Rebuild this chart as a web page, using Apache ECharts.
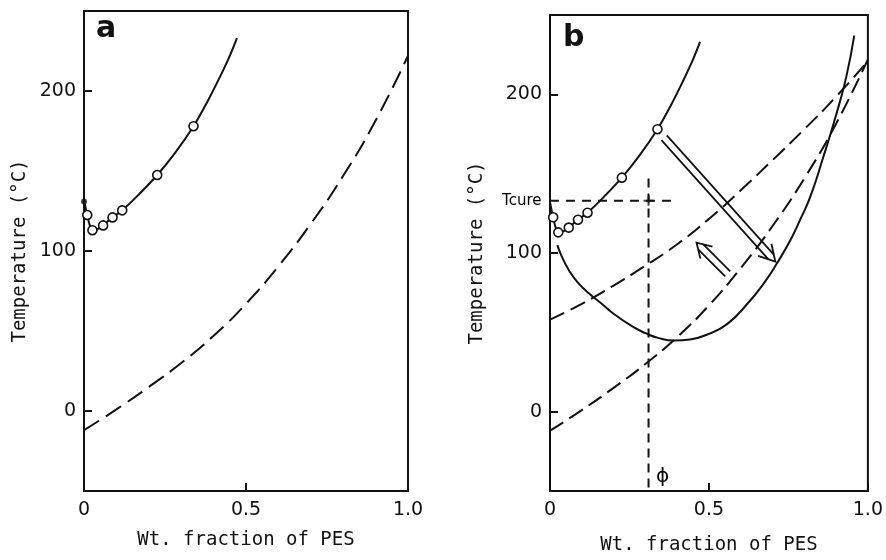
<!DOCTYPE html>
<html><head><meta charset="utf-8">
<script src="https://cdn.jsdelivr.net/npm/echarts@6/dist/echarts.min.js"></script>
<style>html,body{margin:0;padding:0;background:#fff}#c{width:886px;height:560px}</style>
</head><body><div id="c"></div>
<script>
// ---- data ----
const xTicks = [0, 0.5, 1.0];
const xTickLabels = ['0', '0.5', '1.0'];
const yTicks = [0, 100, 200];
const yRange = [-50, 250];
// cloud-point curve (solid) and measured points (open circles)
const cloudCurve = [[0,132],[0.006,126],[0.012,120.5],[0.02,115],[0.03,113],[0.045,114],[0.059,116],[0.088,121],[0.118,125.4],[0.17,135.5],[0.226,147.5],[0.28,161],[0.338,178],[0.38,193],[0.42,209],[0.45,222],[0.472,233]];
const cloudPoints = [[0.01,122.5],[0.026,113],[0.059,116],[0.088,121],[0.118,125.4],[0.226,147.5],[0.338,178]];
const pureEpoxyPoint = [[0,131]];
// lower dashed curve (both panels)
const glassCurve = [[0,-12],[0.1,1],[0.2,15],[0.3,30],[0.4,47],[0.5,67],[0.6,90.5],[0.7,117],[0.8,147],[0.9,181.5],[1.0,222]];
// upper dashed curve (panel b)
const upperCurve = [[0,58],[0.1,68],[0.2,79.5],[0.3,92],[0.4,105.5],[0.5,121.5],[0.6,139.5],[0.7,158.5],[0.8,178],[0.9,198.5],[1.0,221]];
// U-shaped solid curve (panel b)
const uCurve = [[0.023,105],[0.04,96.5],[0.06,89],[0.085,82],[0.122,74.6],[0.16,68.5],[0.195,62.5],[0.259,53.7],[0.3,49.5],[0.34,46.5],[0.39,44.8],[0.44,45.5],[0.5,49],[0.559,55.5],[0.621,68],[0.673,81],[0.714,93.5],[0.756,108],[0.787,121],[0.818,135],[0.859,160],[0.9,187],[0.932,211],[0.957,237]];
const tCure = 133;
const phi = 0.31;
const tCureLineX = [0, 0.39];
const phiLineY = [147, -50];
const phiLabelY = -41;
// arrows: [xStart, yStart, xTip, yTip]
const arrows = [[0.359,172.6,0.709,94.5],[0.559,86.8,0.461,106.5]];

// ---- chart ----
const INK = '#111111';
const SANS = 'DejaVu Sans';
const NAMEFONT = 'DejaVu Sans Mono';

function xAxisFor(gi, gap) {
  return {
    type: 'value', gridIndex: gi, min: xTicks[0], max: xTicks[xTicks.length - 1], interval: 0.5,
    axisLine: { show: true, onZero: false, lineStyle: { color: INK, width: 2 } },
    axisTick: { show: true, inside: true, length: 8, lineStyle: { color: INK, width: 2 } },
    axisLabel: { color: INK, fontSize: 19, fontFamily: SANS, margin: 10,
      formatter: v => { const i = xTicks.findIndex(t => Math.abs(t - v) < 1e-9); return i >= 0 ? xTickLabels[i] : ''; } },
    splitLine: { show: false },
    name: 'Wt. fraction of PES', nameLocation: 'middle', nameGap: gap,
    nameTextStyle: { color: INK, fontSize: 19, fontFamily: NAMEFONT }
  };
}
function yAxisFor(gi, gap) {
  return {
    type: 'value', gridIndex: gi, min: yRange[0], max: yRange[1],
    axisLine: { show: true, onZero: false, lineStyle: { color: INK, width: 2 } },
    axisTick: { show: true, inside: true, length: 8, customValues: yTicks, lineStyle: { color: INK, width: 2 } },
    axisLabel: { color: INK, fontSize: 19, fontFamily: SANS, margin: 8, customValues: yTicks },
    splitLine: { show: false },
    name: 'Temperature (°C)', nameLocation: 'middle', nameGap: gap,
    nameTextStyle: { color: INK, fontSize: 19, fontFamily: NAMEFONT }
  };
}
function lineS(gi, data, dashed, smooth) {
  return { type: 'line', xAxisIndex: gi, yAxisIndex: gi, data: data, showSymbol: false, symbol: 'none',
    smooth: smooth, silent: true, z: 3,
    lineStyle: { color: INK, width: 2, type: dashed || 'solid' } };
}
function pointsS(gi) {
  return { type: 'scatter', xAxisIndex: gi, yAxisIndex: gi, data: cloudPoints, symbol: 'circle', symbolSize: 9,
    silent: true, z: 5, itemStyle: { color: '#ffffff', opacity: 1, borderColor: INK, borderWidth: 1.6 } };
}
function textLabel(pos, dist, text, size) {
  return { show: true, position: pos, distance: dist, formatter: text, color: '#000', opacity: 1,
    fontSize: size, fontFamily: SANS, textBorderWidth: 0, textShadowBlur: 0 };
}

function arrowItem(params, api) {
  const p1 = api.coord([api.value(0), api.value(1)]);
  const p2 = api.coord([api.value(2), api.value(3)]);
  const big = params.dataIndex === 0;
  const dx = p2[0] - p1[0], dy = p2[1] - p1[1];
  const L = Math.sqrt(dx * dx + dy * dy);
  const d = [dx / L, dy / L], n = [-d[1], d[0]];
  const hw = 3.6, hl = big ? 16 : 14, hh = big ? 9 : 8.5;
  const s = hl * hw / hh;
  const P = (base, a, b) => [base[0] + d[0] * a + n[0] * b, base[1] + d[1] * a + n[1] * b];
  const st = { stroke: INK, lineWidth: 1.8, fill: null };
  return { type: 'group', children: [
    { type: 'polyline', shape: { points: [P(p1, 0, hw), P(p2, -s, hw)] }, style: st },
    { type: 'polyline', shape: { points: [P(p1, 0, -hw), P(p2, -s, -hw)] }, style: st },
    { type: 'polyline', shape: { points: [P(p2, -hl, hh), p2, P(p2, -hl, -hh)] }, style: st }
  ] };
}

const option = {
  backgroundColor: '#fff',
  animation: false,
  textStyle: { fontFamily: SANS, color: INK },
  grid: [
    { left: 84, top: 11, width: 324, height: 480, show: true, borderColor: INK, borderWidth: 2, backgroundColor: 'transparent' },
    { left: 550, top: 15, width: 322, height: 477, show: true, borderColor: INK, borderWidth: 2, backgroundColor: 'transparent' }
  ],
  xAxis: [xAxisFor(0, 40), xAxisFor(1, 45)],
  yAxis: [yAxisFor(0, 54), yAxisFor(1, 63)],
  graphic: [
    { type: 'text', left: 96, top: 14, style: { text: 'a', font: 'bold 30px "DejaVu Sans"', fill: INK } },
    { type: 'text', left: 563, top: 23, style: { text: 'b', font: 'bold 30px "DejaVu Sans"', fill: INK } }
  ],
  series: [
    // panel a
    lineS(0, cloudCurve, 'solid', 0.4),
    pointsS(0),
    { type: 'scatter', xAxisIndex: 0, yAxisIndex: 0, data: pureEpoxyPoint, symbol: 'circle', symbolSize: 6, silent: true, z: 6, itemStyle: { color: INK } },
    lineS(0, glassCurve, [18, 8], 0.5),
    // panel b
    lineS(1, cloudCurve, 'solid', 0.4),
    pointsS(1),
    lineS(1, glassCurve, [16, 7], 0.5),
    lineS(1, upperCurve, [16, 7], 0.5),
    lineS(1, uCurve, 'solid', 0.5),
    { type: 'line', xAxisIndex: 1, yAxisIndex: 1, data: tCureLineX.map(x => [x, tCure]), showSymbol: false, symbol: 'none', silent: true,
      lineStyle: { color: INK, width: 2, type: [9, 7] } },
    { type: 'line', xAxisIndex: 1, yAxisIndex: 1, data: phiLineY.map(y => [phi, y]), showSymbol: false, symbol: 'none', silent: true,
      lineStyle: { color: INK, width: 2, type: [9, 6] } },
    { type: 'scatter', xAxisIndex: 1, yAxisIndex: 1, data: [[phi, tCure]], symbol: 'path://M4,0H6V4H10V6H6V10H4V6H0V4H4Z', symbolSize: 10, silent: true, z: 6, itemStyle: { color: INK } },
    { type: 'scatter', xAxisIndex: 1, yAxisIndex: 1, data: [[0, tCure]], symbolSize: 1, silent: true, z: 8, itemStyle: { color: 'rgba(0,0,0,0)' },
      label: textLabel('left', 8, 'Tcure', 15) },
    { type: 'scatter', xAxisIndex: 1, yAxisIndex: 1, data: [[phi, phiLabelY]], symbolSize: 1, silent: true, z: 8, itemStyle: { color: 'rgba(0,0,0,0)' },
      label: textLabel('right', 7, 'ϕ', 20) },
    { type: 'custom', xAxisIndex: 1, yAxisIndex: 1, data: arrows, encode: { x: [0, 2], y: [1, 3] }, silent: true, z: 7, renderItem: arrowItem }
  ]
};
const chart = echarts.init(document.getElementById('c'), null, { renderer: 'canvas' });
chart.setOption(option);
</script>
</body></html>
